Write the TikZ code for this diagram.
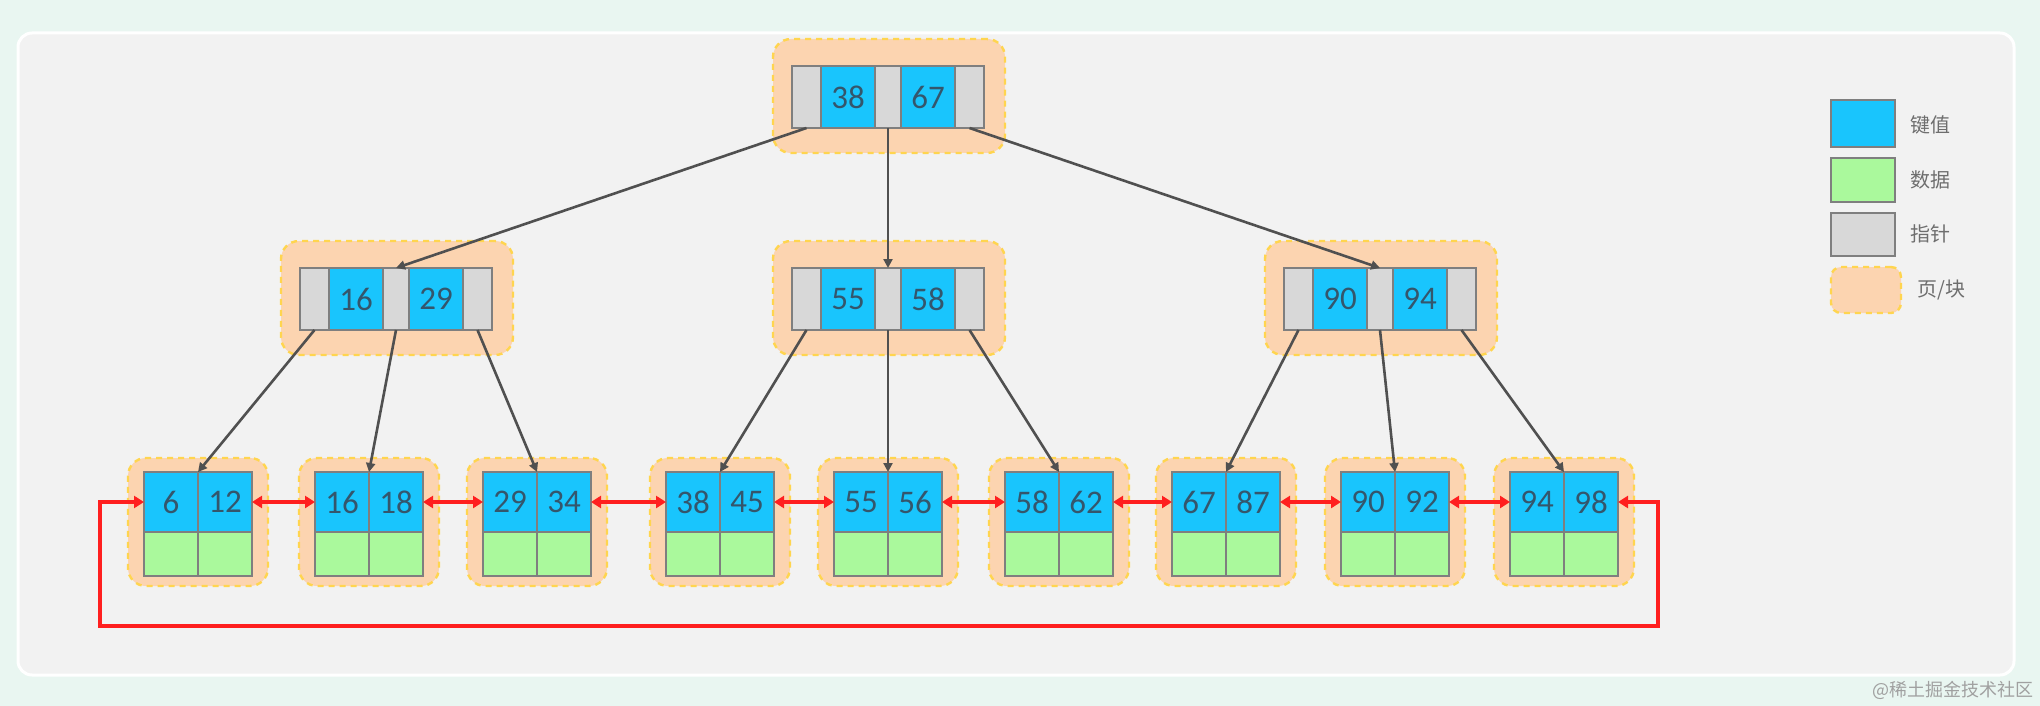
\documentclass[tikz,border=0pt]{standalone}
\usepackage{fontspec}
\setmainfont{Carlito}
\newfontfamily\cjk{Noto Sans CJK SC}
\usetikzlibrary{arrows.meta}
\definecolor{bgmint}{HTML}{E9F6F1}
\definecolor{panel}{HTML}{F2F2F2}
\definecolor{keyblue}{HTML}{19C5FD}
\definecolor{datagreen}{HTML}{AAF99C}
\definecolor{ptrgrey}{HTML}{D8D8D8}
\definecolor{pagefill}{HTML}{FCD4B0}
\definecolor{pageedge}{HTML}{FFD54F}
\definecolor{celledge}{HTML}{7F7F7F}
\definecolor{numtext}{HTML}{34566C}
\definecolor{linkred}{HTML}{FF1F1F}
\definecolor{treeline}{HTML}{505050}
\definecolor{legendgrey}{HTML}{6E6E6E}
\definecolor{wmgrey}{HTML}{A0A0A0}
\tikzset{
 cellbase/.style={draw=celledge, line width=1pt, inner sep=0pt, outer sep=0pt},
 keycell/.style={cellbase, fill=keyblue, minimum width=27pt, minimum height=31pt, text=numtext, font=\fontsize{16.5}{16.5}\selectfont},
 ptrcell/.style={cellbase, fill=ptrgrey, minimum width=14.5pt, minimum height=31pt},
 midptr/.style={ptrcell, minimum width=13pt},
 leafkey/.style={keycell, minimum height=30pt},
 datacell/.style={cellbase, fill=datagreen, minimum width=27pt, minimum height=22pt},
 pagebox/.style={draw=pageedge, fill=pagefill, line width=1.2pt, dash pattern=on 3pt off 2.5pt, rounded corners=9pt, inner sep=0pt},
 innerpage/.style={pagebox, minimum width=116pt, minimum height=57pt},
 leafpage/.style={pagebox, minimum width=70pt, minimum height=64pt},
 treearrow/.style={draw=treeline, line width=1.3pt, -{Triangle[length=4.5pt,width=4.5pt]}},
 linkarrow/.style={draw=linkred, line width=2.2pt, {Triangle[length=5pt,width=6pt]}-{Triangle[length=5pt,width=6pt]}},
 legendtext/.style={text=legendgrey, font=\cjk\fontsize{10}{10}\selectfont, anchor=west, inner sep=0pt},
}
\newcommand\innernode[5]{%
 \node[innerpage] (#1) at (#2+1,#3-1) {};
 \node[ptrcell] (#1-p1) at (#2-81.5,#3) {};
 \node[keycell] (#1-k1) at (#2-40,#3) {#4};
 \node[midptr] (#1-p2) at (#2,#3) {};
 \node[keycell] (#1-k2) at (#2+40,#3) {#5};
 \node[ptrcell] (#1-p3) at (#2+81.5,#3) {};
}
\newcommand\leafnode[4]{%
 \node[leafpage] (#1) at (#2,522) {};
 \node[leafkey] (#1-a) at (#2-27,502) {#3};
 \node[leafkey] (#1-b) at (#2+27,502) {#4};
 \node[datacell] (#1-c) at (#2-27,554) {};
 \node[datacell] (#1-d) at (#2+27,554) {};
}
\begin{document}
\begin{tikzpicture}[x=0.5pt,y=-0.5pt]
\useasboundingbox (0,0) rectangle (2040,706);
\fill[bgmint] (0,0) rectangle (2040,706);
\draw[white, line width=1.5pt, fill=panel, rounded corners=7pt] (18,33) rectangle (2014,675);

\innernode{r}{888}{97}{38}{67}
\innernode{m1}{396}{299}{16}{29}
\innernode{m2}{888}{299}{55}{58}
\innernode{m3}{1380}{299}{90}{94}

\leafnode{l1}{198}{6}{12}
\leafnode{l2}{369}{16}{18}
\leafnode{l3}{537}{29}{34}
\leafnode{l4}{720}{38}{45}
\leafnode{l5}{888}{55}{56}
\leafnode{l6}{1059}{58}{62}
\leafnode{l7}{1226}{67}{87}
\leafnode{l8}{1395}{90}{92}
\leafnode{l9}{1564}{94}{98}

\draw[treearrow] (r-p1.south) -- (m1-p2.north);
\draw[treearrow] (r-p2.south) -- (m2-p2.north);
\draw[treearrow] (r-p3.south) -- (m3-p2.north);

\draw[treearrow] (m1-p1.south) -- (l1-a.north east);
\draw[treearrow] (m1-p2.south) -- (l2-a.north east);
\draw[treearrow] (m1-p3.south) -- (l3-a.north east);
\draw[treearrow] (m2-p1.south) -- (l4-a.north east);
\draw[treearrow] (m2-p2.south) -- (l5-a.north east);
\draw[treearrow] (m2-p3.south) -- (l6-a.north east);
\draw[treearrow] (m3-p1.south) -- (l7-a.north east);
\draw[treearrow] (m3-p2.south) -- (l8-a.north east);
\draw[treearrow] (m3-p3.south) -- (l9-a.north east);

\draw[linkarrow] (l1-b.east) -- (l2-a.west);
\draw[linkarrow] (l2-b.east) -- (l3-a.west);
\draw[linkarrow] (l3-b.east) -- (l4-a.west);
\draw[linkarrow] (l4-b.east) -- (l5-a.west);
\draw[linkarrow] (l5-b.east) -- (l6-a.west);
\draw[linkarrow] (l6-b.east) -- (l7-a.west);
\draw[linkarrow] (l7-b.east) -- (l8-a.west);
\draw[linkarrow] (l8-b.east) -- (l9-a.west);
\coordinate (loopR) at (1658,626);
\coordinate (loopL) at (100,626);
\draw[linkarrow] (l9-b.east) -| (loopR) -- (loopL) |- (l1-a.west);

\node[keycell, minimum width=32pt, minimum height=23.5pt] (lg-key) at (1863,123.5) {};
\node[datacell, minimum width=32pt, minimum height=22pt] (lg-data) at (1863,180) {};
\node[ptrcell, minimum width=32pt, minimum height=21.5pt] (lg-ptr) at (1863,234.5) {};
\node[pagebox, rounded corners=5pt, minimum width=35pt, minimum height=23pt] (lg-page) at (1866,290) {};
\node[legendtext] (lt-key) at (1910,125) {键值};
\node[legendtext] (lt-data) at (1910,180) {数据};
\node[legendtext] (lt-ptr) at (1910,234) {指针};
\node[legendtext] (lt-page) at (1917,290) {页/块};

\node[anchor=east, text=wmgrey, font=\cjk\fontsize{9}{9}\selectfont, inner sep=0pt] (wm) at (2034,690) {@稀土掘金技术社区};
\end{tikzpicture}
\end{document}
